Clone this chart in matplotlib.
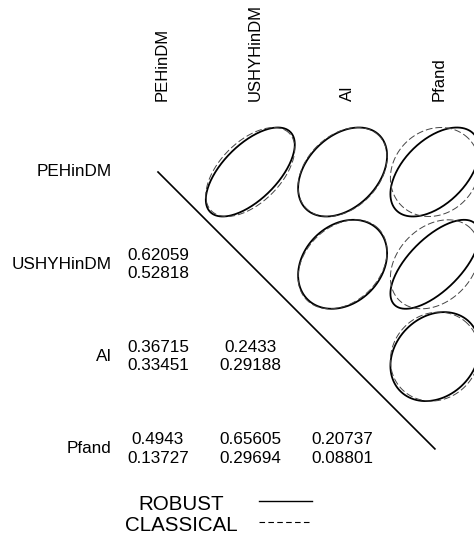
import matplotlib
matplotlib.use("Agg")
import matplotlib.pyplot as plt
import numpy as np

plt.rcParams['font.family'] = ['Liberation Sans', 'DejaVu Sans']

variables = ['PEHinDM', 'USHYHinDM', 'AI', 'Pfand']

# correlations (row, col) -> value, lower triangle of the picture
robust = {(1, 0): 0.62059, (2, 0): 0.36715, (2, 1): 0.2433,
          (3, 0): 0.4943, (3, 1): 0.65605, (3, 2): 0.20737}
classical = {(1, 0): 0.52818, (2, 0): 0.33451, (2, 1): 0.29188,
             (3, 0): 0.13727, (3, 1): 0.29694, (3, 2): 0.08801}

legend_labels = ['ROBUST', 'CLASSICAL']

# layout: one cell = 92.3 px, cell (0,0) centred at pixel (158, 172)
W, H = 474, 541
cell = 92.3
x0, y0 = 158, 172
fs = 12.3

fig = plt.figure(figsize=(W / 100, H / 100), dpi=100)
ax = fig.add_axes([0, 0, 1, 1])
ax.set_xlim(-x0 / cell, (W - x0) / cell)
ax.set_ylim((H - y0) / cell, -y0 / cell)
ax.axis('off')


def corr_ellipse(r, n=200):
    # ellipse of a 2x2 correlation matrix, bounding box [-1, 1]^2
    t = np.linspace(0, 2 * np.pi, n)
    d = np.arccos(r)
    return np.cos(t + d / 2), np.cos(t - d / 2)


s = 0.482
for (i, j), r in robust.items():
    # upper triangle: ellipse in cell (row j, col i)
    ex, ey = corr_ellipse(r)
    ax.plot(i + s * ex, j - s * ey, color='black', lw=1.3, solid_capstyle='butt')
    cx, cy = corr_ellipse(classical[(i, j)])
    ax.plot(i + s * cx, j - s * cy, color='#444444', lw=0.7,
            linestyle=(0, (7, 3)))
    # lower triangle: numbers
    ax.text(j, i - 0.1, f'{r:.5g}', ha='center', va='center', fontsize=fs)
    ax.text(j, i + 0.1, f'{classical[(i, j)]:.5g}', ha='center', va='center',
            fontsize=fs)

# diagonal
n = len(variables)
ax.plot([0, n - 1], [0, n - 1], color='black', lw=1.2)

for k, name in enumerate(variables):
    ax.text(-0.50, k, name, ha='right', va='center', fontsize=fs)
    ax.text(k + 0.05, -0.77, name, ha='center', va='bottom', rotation=90,
            fontsize=12)

# legend
ly = [3.6, 3.83]
ax.text(0.25, ly[0], legend_labels[0], ha='center', va='center', fontsize=fs * 1.2)
ax.text(0.25, ly[1], legend_labels[1], ha='center', va='center', fontsize=fs * 1.2)
ax.plot([1.09, 1.67], [ly[0] - 0.04, ly[0] - 0.04], color='black', lw=1.0)
ax.plot([1.09, 1.67], [ly[1] - 0.04, ly[1] - 0.04], color='black', lw=0.8,
        linestyle=(0, (5, 3)))

fig.savefig('out.png', dpi=100)
